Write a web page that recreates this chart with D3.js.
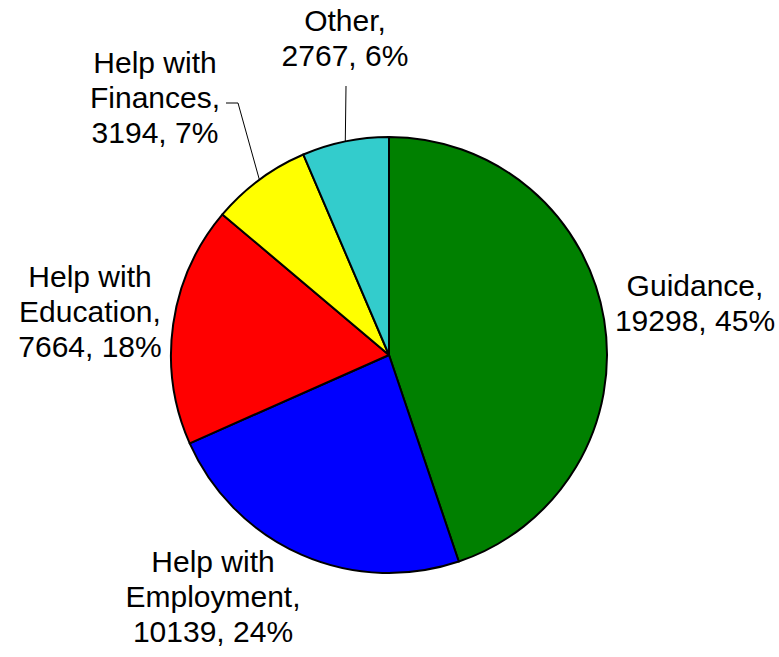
<!DOCTYPE html>
<html><head><meta charset="utf-8">
<script src="https://cdn.jsdelivr.net/npm/d3@7"></script>
<style>body{margin:0;background:#fff}svg{display:block}</style>
</head><body>
<script>
const categories = ["Guidance", "Help with Employment", "Help with Education", "Help with Finances", "Other"];
const values = [19298, 10139, 7664, 3194, 2767];
const percents = ["45%", "24%", "18%", "7%", "6%"];
const colors = ["#008000", "#0000FF", "#FF0000", "#FFFF00", "#33CCCC"];
const labelLines = [
  ["Guidance,", "19298, 45%"],
  ["Help with", "Employment,", "10139, 24%"],
  ["Help with", "Education,", "7664, 18%"],
  ["Help with", "Finances,", "3194, 7%"],
  ["Other,", "2767, 6%"]
];
// label anchor (center x, first baseline y)
const labelPos = [[695, 296], [213, 572], [90, 287], [155, 73], [345, 31]];

const W = 779, H = 657, cx = 389, cy = 355, R = 218;
const svg = d3.select("body").append("svg").attr("width", W).attr("height", H);
const pie = d3.pie().sort(null).value(d => d)(values);
const arc = d3.arc().innerRadius(0).outerRadius(R);
const g = svg.append("g").attr("transform", `translate(${cx},${cy})`);
g.selectAll("path").data(pie).join("path")
  .attr("d", arc).attr("fill", (d, i) => colors[i])
  .attr("stroke", "#000").attr("stroke-width", 2).attr("stroke-linejoin", "round");

// leader lines
const pt = (d, r) => { const a = (d.startAngle + d.endAngle) / 2; return [Math.sin(a) * r, -Math.cos(a) * r]; };
const fin = pie[3], oth = pie[4];
const pf = pt(fin, R);
g.append("polyline").attr("fill", "none").attr("stroke", "#000").attr("stroke-width", 1)
  .attr("points", [[226 - cx, 103 - cy], [238 - cx, 103 - cy], pf].map(p => p.join(",")).join(" "));
const po = pt(oth, R);
g.append("polyline").attr("fill", "none").attr("stroke", "#000").attr("stroke-width", 1)
  .attr("points", [[346 - cx, 86 - cy], po].map(p => p.join(",")).join(" "));

const lh = 35;
labelLines.forEach((lines, i) => {
  const t = svg.append("text").attr("text-anchor", "middle")
    .attr("font-family", "Liberation Sans, Arial, sans-serif").attr("font-size", 30).attr("fill", "#000");
  lines.forEach((s, j) => t.append("tspan").attr("x", labelPos[i][0]).attr("y", labelPos[i][1] + j * lh).text(s));
});
</script>
</body></html>
